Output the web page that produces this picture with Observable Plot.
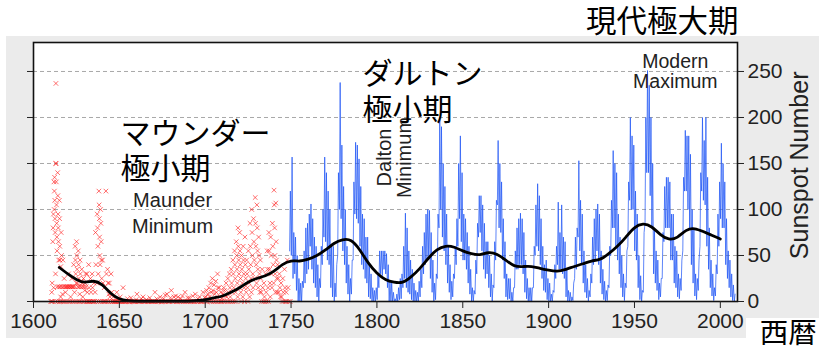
<!DOCTYPE html>
<html><head><meta charset="utf-8">
<script src="https://cdn.jsdelivr.net/npm/d3@7"></script>
<script src="https://cdn.jsdelivr.net/npm/@observablehq/plot@0.6"></script>
<style>
html,body{margin:0;padding:0;background:#fff;}
#wrap{position:relative;width:819px;height:349px;overflow:hidden;}
#bg{position:absolute;left:6px;top:36px;width:813px;height:302px;background:#ebebeb;}
#wbox{position:absolute;left:746px;top:318px;width:73px;height:31px;background:#fff;}
#wrap svg{position:absolute;left:0;top:0;}
</style></head><body><div id="wrap"><div id="bg"></div><div id="wbox"></div></div>
<script>
// ---- Axis ticks
const xTicks = [1600, 1650, 1700, 1750, 1800, 1850, 1900, 1950, 2000];
const yTicks = [0, 50, 100, 150, 200, 250];

// ---- Group sunspot observations (red crosses), one row per year from 1610
const redStartYear = 1610;
const redValues = [
  [0,0,10,20],[0,65,80,95,15,130],[100,120,135,110,90,75,0,30,150],[237,150,130,105,85,70,55,16,0],[140,115,95,80,65,45,16,0],
  [110,90,60,45,16,0,5,38],[75,50,16,0,8],[45,16,0,25],[16,0,10,16],[16,0,16],               // 1610-1619
  [16,30,0,16],[16,0,5,16],[16,25,0,16],[16,40,0,10],[16,60,45,30,0,20],
  [65,50,35,20,16,0],[55,40,25,16,0,8],[45,30,16,0,22],[35,20,16,5,0],[25,16,0,12],          // 1620-1629
  [20,30,16,0],[30,10,0,0],[40,15,0,0],[25,10,0],[30,15,0,0],
  [20,0,10],[75,40,0,20],[95,80,60,30,0],[120,105,90,70,50,40,0],[100,85,65,45,25,0],        // 1630-1639
  [45,20,0],[15,0,0],[120,30,0],[35,20,0,8],[20,5,0],
  [30,10,0],[0,5,0],[0,0],[0,10,0],[0,0],                                                      // 1640-1649
  [0,5,0],[0,0],[15,0,0],[0,0],[0,3],[0,0],[0,4],[0,0],[0,0],[0,2],                            // 1650-1659
  [8,0],[0,0],[0,3],[0,5],[0,0],[0,2],[0,0],[0,4],[0,0],[0,0],                                 // 1660-1669
  [0,10],[0,3],[0,0],[0,5],[0,0],[0,3],[0,7],[0,8],[0,0],[0,4],                                // 1670-1679
  [12,0],[0,5],[0,6],[0,0],[5,0],[0,3],[0,6],[0,0],[10,0],[0,4],                               // 1680-1689
  [0,4],[0,0],[0,6],[0,0],[8,0],[0,3],[0,5],[0,0],[0,10],[0,4],                                // 1690-1699
  [5,0,12],[0,8,3],[15,5,0],[20,10,0],[25,12,0],[18,8,0],[22,10,0],[30,15,0],[15,5,0],[10,0,4],// 1700-1709
  [8,0,15],[12,0,6],[20,5,0],[25,10,0],[30,15,5,0],[35,20,10,0],[45,30,15,0],[55,40,25,10,0],
  [65,50,35,20,5],[80,60,45,30,15],                                                            // 1710-1719
  [75,55,40,25,10,0],[50,35,20,5],[60,45,30,15,0],[70,40,25,10],[45,30,15,0],[55,35,20,5],
  [85,60,40,25,10],[100,75,50,30,15],[90,65,45,25],[113,85,60,40,20],                          // 1720-1729
  [105,80,55,35,15],[70,50,30,10],[45,25,10,0],[35,15,0],[20,5,0],[30,10,0],[55,35,15,0],
  [75,55,35,20,5],[70,50,30,15],[85,60,40,20],                                                 // 1730-1739
  [121,105,80,50,30,10],[107,65,45,25,10],[40,25,10],[30,15,5],[20,5,0],[25,10,0],[35,15,0],
  [10,0,45],[15,0],[0]                                                                         // 1740-1749
];

// ---- Monthly sunspot number envelope (blue), yearly high / low months from 1749
const blueStartYear = 1749;
const blueHigh = [
  120,157,75,70,50,25,20,22,55,80,   85,95,106,90,70,60,40,25,60,100,
  157,140,120,100,60,60,20,40,140,238, 170,125,100,60,40,25,45,130,173,170,
  155,125,95,90,70,70,40,30,15,12,   15,30,55,55,55,55,52,40,22,20,
  10,3,8,15,25,30,60,96,80,55,       45,35,20,12,10,22,35,60,75,95,
  100,99,75,45,20,30,95,197,190,150, 125,95,60,40,22,30,60,90,150,180,
  140,95,90,75,60,35,15,12,45,85,    115,115,105,85,65,65,50,30,18,65,
  110,175,150,130,90,65,30,25,25,10, 15,55,80,90,96,90,75,45,25,15,
  15,15,60,105,128,115,90,60,40,45,  25,20,8,12,40,60,108,75,105,70,
  65,35,12,10,5,20,70,80,153,110,    95,55,40,25,12,30,70,90,100,106,
  95,55,35,22,12,18,60,110,164,150,  140,95,70,50,30,20,55,130,200,180,
  170,120,95,50,28,12,75,200,251,235, 200,150,80,55,45,20,25,75,125,135,
  135,130,95,95,60,55,30,25,45,135,  186,180,180,160,100,80,30,25,45,140,
  200,175,200,135,80,45,30,15,40,95, 130,172,150,130,90,55,45,30,18,8
];
const blueLow = [
  55,50,25,30,12,0,0,0,15,20,        30,35,60,35,20,15,5,0,15,40,
  70,65,45,40,15,5,0,5,50,100,       90,55,40,20,8,0,8,45,95,90,
  85,60,40,35,25,20,5,3,0,0,         0,2,15,30,28,35,30,15,0,0,
  0,0,0,0,2,3,15,25,15,10,           8,2,0,0,0,0,5,15,30,40,
  45,50,25,10,0,2,25,80,100,70,      55,40,20,10,2,5,25,40,60,90,
  65,45,45,35,20,8,0,0,8,30,         70,75,55,35,25,30,15,5,0,15,
  45,105,80,75,45,25,5,2,3,0,        0,15,35,35,40,40,30,10,3,0,
  0,0,15,50,60,55,40,25,12,10,       2,0,0,0,10,25,40,35,35,30,
  25,5,0,0,0,1,25,35,70,55,          40,20,10,4,0,5,20,40,45,55,
  40,20,8,2,0,1,15,50,80,80,         60,45,30,15,5,1,15,60,110,100,
  100,55,45,15,2,0,10,85,140,140,    115,80,30,20,12,2,5,25,65,80,
  80,80,45,45,20,15,5,3,12,55,       120,120,100,80,40,20,6,2,12,60,
  120,110,105,60,35,15,6,1,6,30,     60,90,80,80,40,25,15,5,1,0
];

// ---- Smoothed trend (black)
const smoothYears = [1615,1620,1625,1630,1635,1640,1645,1650,1655,1660,1670,1680,1690,1695,1700,1705,1710,1715,1720,1725,1730,1735,1740,1745,1750,1755,1760,1765,1770,1775,1780,1785,1790,1795,1800,1805,1810,1815,1820,1825,1830,1835,1840,1845,1850,1855,1860,1865,1870,1875,1880,1885,1890,1895,1900,1905,1910,1915,1920,1925,1930,1935,1940,1945,1950,1955,1960,1965,1970,1975,1980,1985,1990,1995,2000];
const smoothValues = [37,30,24,21,22,18,9,3,1,0.5,0.5,0.5,0.5,1,2,4,6,10,15,21,25,28,33,40,44,44,46,50,56,63,67,66,56,42,31,24,21,21,27,36,47,56,60,59,55,52,51,53,51,45,39,38,38,36,34,33,35,38,41,44,46,52,60,70,80,84,81,73,68,70,77,79,76,72,68];

// ---- Build tables
const redPts = [];
redValues.forEach((vals, i) => {
  vals.forEach((v, j) => redPts.push({x: redStartYear + i + (j + 0.5) / vals.length, v}));
});
const bluePts = [];
blueHigh.forEach((h, i) => {
  const yr = blueStartYear + i;
  bluePts.push({x: yr + 0.15, v: blueLow[i]});
  bluePts.push({x: yr + 0.6, v: h});
});
const smooth = smoothYears.map((x, i) => ({x, v: smoothValues[i]}));

const jp = "'Noto Sans CJK JP', 'Noto Sans CJK SC', sans-serif";
const en = "'Liberation Sans', Arial, sans-serif";

const chart = Plot.plot({
  width: 819, height: 349,
  marginLeft: 33, marginRight: 82, marginTop: 42, marginBottom: 48,
  style: {background: "transparent", fontFamily: en, color: "#222", overflow: "visible"},
  x: {domain: [1600, 2010]},
  y: {domain: [0, 281.5]},
  marks: [
    Plot.frame({fill: "white", stroke: null}),
    Plot.gridY(yTicks.slice(1), {stroke: "#a8a8a8", strokeOpacity: 1, strokeDasharray: "4,3"}),
    Plot.dot(redPts, {x: "x", y: "v", symbol: "times", r: 2.2, stroke: "#ff2020", strokeWidth: 1, strokeOpacity: 0.65}),
    Plot.line(bluePts, {x: "x", y: "v", stroke: "#1f55f5", strokeWidth: 0.85, strokeOpacity: 0.85}),
    Plot.line(smooth, {x: "x", y: "v", curve: "natural", stroke: "black", strokeWidth: 2.8}),
    Plot.frame({stroke: "#111", strokeWidth: 1.6}),
    Plot.axisX({ticks: xTicks, tickFormat: d => String(d), fontSize: 21, tickSize: 7, tickPadding: 5, label: null}),
    Plot.axisY({anchor: "right", ticks: yTicks, fontSize: 21, tickSize: 6, tickPadding: 4, label: null}),
    Plot.axisY({anchor: "left", ticks: yTicks, tickFormat: () => "", tickSize: 6, label: null}),
    Plot.text(["Sunspot Number"], {x: 2046.6, y: 148, rotate: -90, fontSize: 25, fill: "#222"}),
    Plot.text(["Maunder\nMinimum"], {x: 1681, y: 98, fontSize: 20, lineHeight: 1.33, fill: "#222"}),
    Plot.text(["Modern\nMaximum"], {x: 1973.8, y: 250, fontSize: 19.5, lineHeight: 1.05, fill: "#222"}),
    Plot.text(["Dalton\nMinimum"], {x: 1810.2, y: 156.5, rotate: -90, fontSize: 20, lineHeight: 1.0, fill: "#222"}),
    Plot.text(["マウンダー\n極小期"], {x: 1650.7, y: 164, textAnchor: "start", fontSize: 30, lineHeight: 1.17, fontFamily: jp, fill: "#000"}),
    Plot.text(["ダルトン\n極小期"], {x: 1791.6, y: 229.3, textAnchor: "start", fontSize: 30, lineHeight: 1.2, fontFamily: jp, fill: "#000"}),
    Plot.text(["現代極大期"], {x: 1966.2, y: 303, fontSize: 30.5, fontFamily: jp, fill: "#000"}),
    Plot.text(["西暦"], {x: 2039.6, y: -35, fontSize: 28.5, fontFamily: jp, fill: "#000"})
  ]
});
document.getElementById("wrap").appendChild(chart);
</script>
</body></html>
